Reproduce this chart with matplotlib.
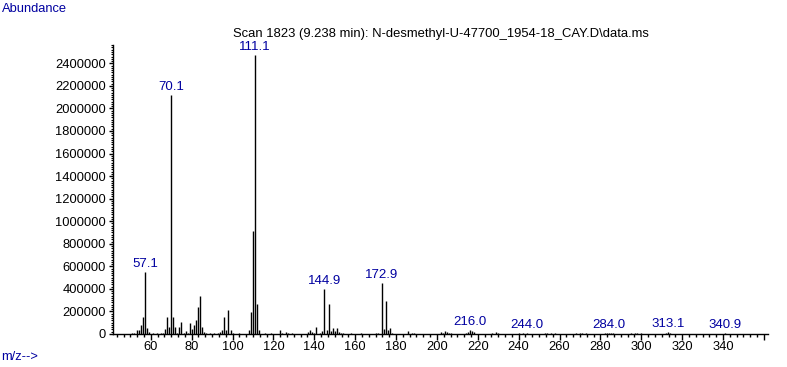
import matplotlib
matplotlib.use("Agg")
import matplotlib.pyplot as plt
from matplotlib.ticker import MultipleLocator, FixedLocator
import numpy as np

plt.rcParams['font.family'] = ['Liberation Sans', 'DejaVu Sans']

title = "Scan 1823 (9.238 min): N-desmethyl-U-47700_1954-18_CAY.D\\data.ms"

# m/z values and abundances
mz = [51, 52, 53, 54, 55, 56, 57.1, 58, 59, 61, 63, 65, 66, 67, 68, 69,
      70.1, 71, 72, 73, 74, 75, 76, 77, 78, 79, 80, 81, 82, 83, 84, 85,
      86, 87, 89, 91, 93, 94, 95, 96, 97, 98, 99, 100, 103, 108, 109, 110,
      111.1, 112, 113, 116, 119, 123, 124, 126, 127, 129, 137, 138, 139,
      140, 141, 143, 144, 144.9, 146, 147, 148, 149, 150, 151, 152, 153,
      154, 158, 163, 170, 171, 172.9, 174, 175, 176, 177, 178, 186, 188,
      189, 202, 203, 204, 205, 206, 207, 214, 215, 216.0, 217, 218, 227,
      229, 230, 240, 242, 244.0, 253, 254, 256, 258, 268, 270, 271, 273,
      282, 283, 284.0, 285, 286, 295, 297, 298, 300, 312, 313.1, 314, 340.9]
abundance = [12000, 8000, 38000, 38000, 83000, 154000, 550000, 56000, 18000,
             8000, 6000, 8000, 10000, 47000, 154000, 60000,
             2119000, 148000, 62000, 10000, 65000, 109000, 10000, 30000,
             12000, 95000, 47000, 83000, 127000, 242000, 340000, 65000,
             20000, 9000, 7000, 8000, 6000, 20000, 38000, 154000, 32000,
             210000, 32000, 10000, 6000, 32000, 192000, 913000,
             2470000, 269000, 32000, 8000, 7000, 38000, 12000, 20000, 8000,
             6000, 20000, 32000, 20000,
             12000, 62000, 12000, 24000, 396000, 38000, 269000, 24000, 53000,
             27000, 53000, 15000, 12000,
             12000, 6000, 6000, 6000, 12000, 449000, 44000, 296000, 32000,
             56000, 12000, 30000, 12000,
             12000, 18000, 10000, 30000, 18000, 10000, 6000, 10000, 14000,
             36000, 27000, 18000, 10000,
             14000, 10000, 10000, 8000, 9000, 5000, 5000, 5000, 5000, 5000,
             5000, 5000, 5000,
             5000, 5000, 7000, 5000, 5000, 5000, 5000, 5000, 5000, 5000,
             18000, 6000, 5000]

labeled = [57.1, 70.1, 111.1, 144.9, 172.9, 216.0, 244.0, 284.0, 313.1, 340.9]

blue = '#0000A0'

fig = plt.figure(figsize=(7.87, 3.67), dpi=100)
ax = fig.add_axes([113 / 787, 1 - 334 / 367, (768 - 113) / 787, (334 - 45) / 367])

ax.vlines(mz, 0, abundance, colors='black', linewidth=1)

for m, a in zip(mz, abundance):
    if m in labeled:
        ax.annotate('%.1f' % m, (m, a), xytext=(0, 1.5), textcoords='offset points',
                    ha='center', va='bottom', color=blue, fontsize=9.5)

ax.set_xlim(41.5, 362)
ax.set_ylim(0, 2562000)

ax.xaxis.set_major_locator(FixedLocator(list(range(60, 361, 20))))
ax.set_xticklabels([str(v) if v <= 340 else '' for v in range(60, 361, 20)])
ax.xaxis.set_minor_locator(MultipleLocator(20 / 6))
ax.yaxis.set_major_locator(MultipleLocator(200000))
ax.yaxis.set_minor_locator(MultipleLocator(20000))
ax.set_yticks(np.arange(0, 2400001, 200000))
ax.set_yticklabels([str(v) for v in range(0, 2400001, 200000)])

ax.tick_params(axis='x', which='major', length=4, width=1, pad=1, labelsize=9.3)
ax.tick_params(axis='x', which='minor', length=2.5, width=1)
ax.tick_params(axis='y', which='major', length=3, width=1, pad=2, labelsize=9.3)
ax.tick_params(axis='y', which='minor', length=1.5, width=0.8)

for side in ['top', 'right']:
    ax.spines[side].set_visible(False)
for side in ['left', 'bottom']:
    ax.spines[side].set_linewidth(1)

fig.text((113 + 768) / 2 / 787, 1 - 34 / 367, title, ha='center', va='center', fontsize=9.4)
fig.text(2 / 787, 1 - 9 / 367, 'Abundance', ha='left', va='center', color=blue, fontsize=9.3)
fig.text(1 / 787, 1 - 357 / 367, 'm/z-->', ha='left', va='center', color=blue, fontsize=9.3)

plt.savefig('out.png', dpi=100)
plt.close()
